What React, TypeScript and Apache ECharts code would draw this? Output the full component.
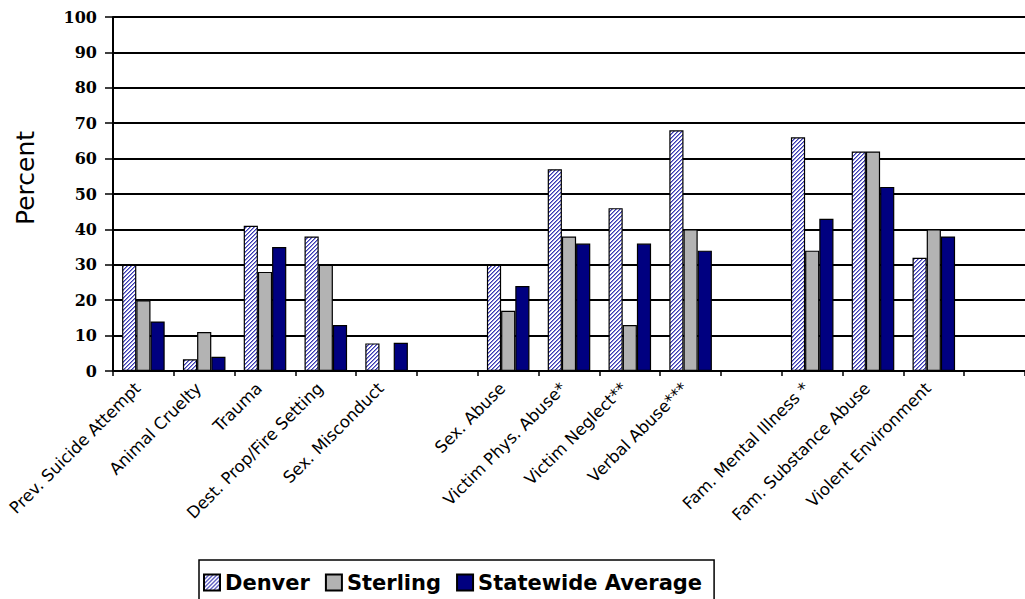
import React, { useEffect, useRef } from "react";
import * as echarts from "echarts";

const categories = [
  "Prev. Suicide Attempt",
  "Animal Cruelty",
  "Trauma",
  "Dest. Prop/Fire Setting",
  "Sex. Misconduct",
  " ",
  "Sex. Abuse",
  "Victim Phys. Abuse*",
  "Victim Neglect**",
  "Verbal Abuse***",
  "  ",
  "Fam. Mental Illness *",
  "Fam. Substance Abuse",
  "Violent Environment",
  "   ",
];

const seriesNames = ["Denver", "Sterling", "Statewide Average"];

const denver = [30, 3.3, 41, 38, 7.8, null, 30, 57, 46, 68, null, 66, 62, 32, null];
const sterling = [20, 11, 28, 30, 0, null, 17, 38, 13, 40, null, 34, 62, 40, null];
const statewide = [14, 4, 35, 13, 8, null, 24, 36, 36, 34, null, 43, 52, 38, null];

const yMin = 0;
const yMax = 100;
const yInterval = 10;

function makeHatch(): HTMLCanvasElement {
  const c = document.createElement("canvas");
  c.width = 4;
  c.height = 4;
  const ctx = c.getContext("2d")!;
  ctx.fillStyle = "#ffffff";
  ctx.fillRect(0, 0, 4, 4);
  for (let x = 0; x < 4; x++) {
    for (let y = 0; y < 4; y++) {
      const k = (x + y) % 4;
      if (k === 0) {
        ctx.fillStyle = "#3a3ab0";
        ctx.fillRect(x, y, 1, 1);
      } else if (k === 1) {
        ctx.fillStyle = "#8a8ad8";
        ctx.fillRect(x, y, 1, 1);
      }
    }
  }
  return c;
}

export default function App() {
  const ref = useRef<HTMLDivElement>(null);

  useEffect(() => {
    if (!ref.current) return;
    const chart = echarts.init(ref.current, null, { renderer: "svg" });
    const hatch = makeHatch();
    const fills: any[] = [
      { image: hatch, repeat: "repeat" },
      "#b3b3b3",
      "#000080",
    ];
    const values = [denver, sterling, statewide];

    chart.setOption({
      animation: false,
      backgroundColor: "#ffffff",
      grid: { left: 113, top: 17, width: 921, height: 354 },
      legend: {
        data: seriesNames,
        left: 199,
        top: 560,
        padding: [12, 12, 20, 4],
        borderColor: "#000",
        borderWidth: 1.5,
        itemWidth: 16,
        itemHeight: 16,
        itemGap: 15,
        icon: "rect",
        textStyle: {
          fontFamily: "DejaVu Sans",
          fontWeight: "bold",
          fontSize: 21,
          color: "#000",
        },
      },
      xAxis: {
        type: "category",
        data: categories,
        boundaryGap: true,
        axisLine: { show: true, lineStyle: { color: "#000", width: 2 } },
        axisTick: { show: true, length: 5, lineStyle: { color: "#000", width: 1.5 } },
        axisLabel: {
          interval: 0,
          rotate: 45,
          margin: 9,
          padding: [0, 8, 0, 0],
          fontFamily: "DejaVu Sans",
          fontSize: 16.5,
          color: "#000",
        },
        splitLine: { show: false },
      },
      yAxis: {
        type: "value",
        min: yMin,
        max: yMax,
        interval: yInterval,
        axisLine: { show: true, lineStyle: { color: "#000", width: 2 } },
        axisTick: { show: true, length: 8, lineStyle: { color: "#000", width: 1.5 } },
        axisLabel: {
          margin: 16,
          fontFamily: "DejaVu Serif",
          fontWeight: "bold",
          fontSize: 16,
          color: "#000",
        },
        splitLine: { show: true, lineStyle: { color: "#000", width: 2 } },
      },
      graphic: [
        {
          type: "text",
          x: 25,
          y: 178,
          rotation: Math.PI / 2,
          style: {
            text: "Percent",
            fontFamily: "DejaVu Sans",
            fontSize: 25,
            fill: "#000",
            textAlign: "center",
            textVerticalAlign: "middle",
          },
        },
      ],
      series: seriesNames.map((name, i) => ({
        name,
        type: "bar",
        data: values[i],
        barGap: "0%",
        barCategoryGap: "30%",
        itemStyle: { color: fills[i], borderColor: "#000", borderWidth: 1.2 },
      })),
    });

    return () => chart.dispose();
  }, []);

  return (
    <div
      ref={ref}
      style={{ position: "absolute", left: 0, top: 0, width: 1025, height: 599 }}
    />
  );
}
